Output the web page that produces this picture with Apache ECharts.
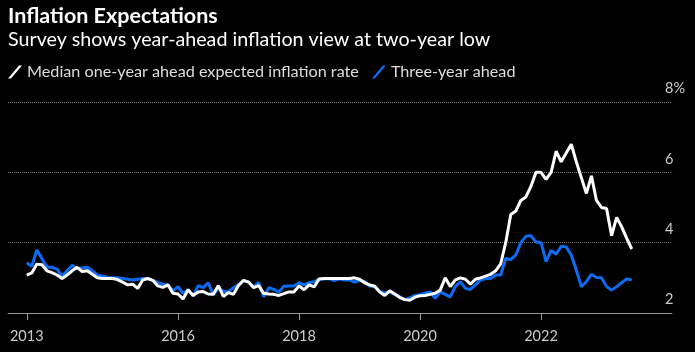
<!DOCTYPE html>
<html>
<head>
<meta charset="utf-8">
<style>
    html, body { margin: 0; padding: 0; background: #000; }
    #chart { width: 695px; height: 352px; }
</style>
</head>
<body>
<div id="chart"></div>
<script src="https://cdn.jsdelivr.net/npm/echarts@6/dist/echarts.min.js"></script>
<script>
    // monthly survey, first point June 2013, plotted at month end
    var startYear = 2013;
    var startMonth = 6;

    // median one-year ahead expected inflation rate, %
    var oneYear = [
        3.08, 3.14, 3.39, 3.37, 3.20, 3.15, 3.08, 2.98, 3.08, 3.20, 3.30, 3.18,
        3.20, 3.10, 3.00, 2.98, 2.98, 2.98, 2.95, 2.88, 2.80, 2.82, 2.70, 2.94,
        2.98, 2.93, 2.77, 2.73, 2.80, 2.56, 2.54, 2.40, 2.66, 2.50, 2.60, 2.61,
        2.54, 2.53, 2.78, 2.47, 2.58, 2.53, 2.78, 2.93, 2.88, 2.72, 2.78, 2.56,
        2.54, 2.53, 2.50, 2.55, 2.60, 2.60, 2.77, 2.66, 2.80, 2.74, 2.97, 2.98,
        2.98, 2.98, 2.98, 2.98, 2.98, 3.00, 2.96, 2.86, 2.80, 2.76, 2.60, 2.50,
        2.63, 2.54, 2.44, 2.38, 2.36, 2.45, 2.49, 2.50, 2.53, 2.56, 2.65, 3.00,
        2.75, 2.94, 3.00, 2.96, 2.82, 2.96, 3.00, 3.05, 3.10, 3.20, 3.40, 4.00,
        4.80, 4.90, 5.20, 5.30, 5.60, 6.00, 6.00, 5.80, 6.00, 6.60, 6.30, 6.55,
        6.80, 6.30, 5.85, 5.40, 5.90, 5.20, 5.00, 4.97, 4.20, 4.72, 4.45, 4.12,
        3.82
    ];

    // three-year ahead, %
    var threeYear = [
        3.43, 3.33, 3.79, 3.55, 3.30, 3.30, 3.25, 3.05, 3.20, 3.36, 3.26, 3.28,
        3.30, 3.20, 3.08, 3.05, 3.02, 3.00, 3.00, 2.98, 2.96, 2.94, 2.96, 2.98,
        2.98, 2.93, 2.87, 2.82, 2.80, 2.63, 2.75, 2.56, 2.66, 2.48, 2.78, 2.72,
        2.86, 2.52, 2.70, 2.62, 2.60, 2.72, 2.80, 2.92, 2.88, 2.74, 2.87, 2.46,
        2.72, 2.67, 2.60, 2.76, 2.77, 2.77, 2.86, 2.80, 2.86, 2.89, 2.96, 2.97,
        2.98, 2.92, 2.97, 2.94, 2.94, 2.88, 2.93, 2.90, 2.76, 2.77, 2.62, 2.57,
        2.60, 2.53, 2.46, 2.38, 2.43, 2.50, 2.52, 2.56, 2.60, 2.42, 2.60, 2.53,
        2.46, 2.75, 2.89, 2.70, 2.67, 2.80, 2.94, 2.98, 2.98, 3.08, 3.08, 3.55,
        3.52, 3.65, 4.00, 4.18, 4.20, 4.02, 4.00, 3.46, 3.78, 3.67, 3.90, 3.88,
        3.65, 3.22, 2.75, 2.89, 3.10, 3.01, 3.00, 2.75, 2.65, 2.75, 2.86, 2.97,
        2.94
    ];

    // x axis ticks (first one sits on the first survey month)
    var tickValues = [2013.5, 2016, 2018, 2020, 2022];
    var tickLabels = ['2013', '2016', '2018', '2020', '2022'];

    var legendNames = ['Median one-year ahead expected inflation rate', 'Three-year ahead'];

    function toPairs(arr) {
        var out = [];
        for (var i = 0; i < arr.length; i++) {
            out.push([startYear + (startMonth + i) / 12, arr[i]]);
        }
        return out;
    }

    var slash = 'path://M0,13 L3,13 L14,0 L11,0 Z';
    var font = 'Lato';

    var chart = echarts.init(document.getElementById('chart'));
    var option = {
        backgroundColor: '#000',
        animation: false,
        title: {
            text: 'Inflation Expectations',
            subtext: 'Survey shows year-ahead inflation view at two-year low',
            left: 3,
            top: 0,
            itemGap: 3,
            textStyle: { color: '#fff', fontFamily: font, fontWeight: 'bold', fontSize: 21.5 },
            subtextStyle: { color: '#fff', fontFamily: font, fontSize: 19.7 }
        },
        legend: {
            left: 3,
            top: 59,
            itemWidth: 14,
            itemHeight: 13,
            itemGap: 13,
            data: [
                { name: legendNames[0], icon: slash, itemStyle: { color: '#fff' } },
                { name: legendNames[1], icon: slash, itemStyle: { color: '#0b6cf3' } }
            ],
            textStyle: { color: '#ddd', fontFamily: font, fontSize: 16.2 }
        },
        grid: { left: 8, right: 23, top: 102, bottom: 39 },
        xAxis: {
            type: 'value',
            min: 2013.19,
            max: 2024.165,
            axisLine: { show: true, lineStyle: { color: '#999', width: 1 } },
            axisTick: { show: true, length: 7, customValues: tickValues, lineStyle: { color: '#999' } },
            axisLabel: {
                customValues: tickValues,
                margin: 16,
                color: '#ccc',
                fontFamily: font,
                fontSize: 14.5,
                formatter: function (v) {
                    return tickLabels[tickValues.indexOf(v)];
                }
            },
            splitLine: { show: false }
        },
        yAxis: {
            type: 'value',
            position: 'right',
            min: 2,
            max: 8,
            interval: 2,
            axisLine: { show: false },
            axisTick: { show: false },
            axisLabel: {
                margin: -7,
                align: 'left',
                verticalAlign: 'bottom',
                padding: [0, 0, 6, 0],
                color: '#ccc',
                fontFamily: font,
                fontSize: 14.5,
                formatter: function (v) { return v === 8 ? '8%' : v; }
            },
            splitLine: { show: true, lineStyle: { color: '#777', type: 'dotted', width: 1 } }
        },
        series: [
            {
                name: legendNames[0],
                type: 'line',
                data: toPairs(oneYear),
                showSymbol: false,
                z: 3,
                lineStyle: { color: '#fff', width: 3 },
                itemStyle: { color: '#fff' }
            },
            {
                name: legendNames[1],
                type: 'line',
                data: toPairs(threeYear),
                showSymbol: false,
                z: 2,
                lineStyle: { color: '#0b6cf3', width: 3 },
                itemStyle: { color: '#0b6cf3' }
            }
        ]
    };
    chart.setOption(option);
</script>
</body>
</html>
